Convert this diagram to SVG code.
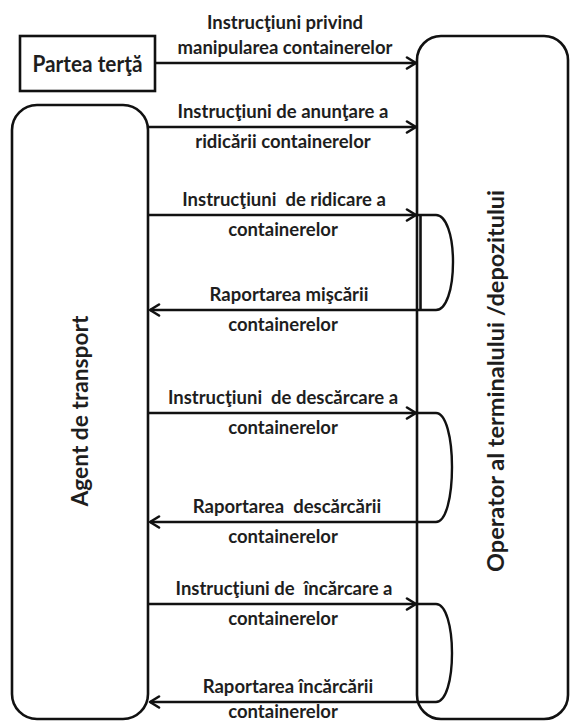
<svg xmlns="http://www.w3.org/2000/svg" width="571" height="722" viewBox="0 0 571 722">
<style>
.box{fill:#fff;stroke:#111;stroke-width:2.6}
.ln{fill:none;stroke:#111;stroke-width:2.6}
.br{fill:none;stroke:#111;stroke-width:2.4}
.t{font-family:"Lato","Liberation Sans",sans-serif;font-weight:bold;font-size:18.5px;fill:#1e1e1e;text-anchor:middle}
.big{font-size:22px}
.vt{font-size:23px}
</style>
<defs>
<marker id="ah" markerUnits="userSpaceOnUse" markerWidth="14" markerHeight="14" viewBox="-1 -1 13 14" refX="10" refY="6" orient="auto">
<path d="M1,0.5 L10,6 L1,11.5" fill="none" stroke="#111" stroke-width="2.6" stroke-linecap="round" stroke-linejoin="round"/>
</marker>
</defs>
<rect width="571" height="722" fill="#fff"/>
<g id="operator">
<rect class="box" x="417" y="36" width="151" height="683" rx="24"/>
<text class="t vt" transform="translate(504,381) rotate(-90)" textLength="382" lengthAdjust="spacingAndGlyphs">Operator al terminalului /depozitului</text>
</g>
<g id="agent">
<rect class="box" x="12" y="105" width="136" height="614" rx="25"/>
<text class="t vt" transform="translate(88,411) rotate(-90)" textLength="191" lengthAdjust="spacingAndGlyphs">Agent de transport</text>
</g>
<g id="parte">
<rect class="box" x="20" y="36" width="135" height="55"/>
<text class="t big" x="87.5" y="72" textLength="110" lengthAdjust="spacingAndGlyphs">Partea terţă</text>
</g>
<g id="connectors">
<line class="ln" x1="155" y1="63" x2="416" y2="63" marker-end="url(#ah)"/>
<line class="ln" x1="148" y1="127" x2="416" y2="127" marker-end="url(#ah)"/>
<line class="ln" x1="148" y1="215" x2="416" y2="215" marker-end="url(#ah)"/>
<line class="ln" x1="418" y1="310" x2="150" y2="310" marker-end="url(#ah)"/>
<line class="ln" x1="148" y1="413" x2="416" y2="413" marker-end="url(#ah)"/>
<line class="ln" x1="418" y1="522" x2="150" y2="522" marker-end="url(#ah)"/>
<line class="ln" x1="148" y1="604" x2="416" y2="604" marker-end="url(#ah)"/>
<line class="ln" x1="418" y1="702" x2="150" y2="702" marker-end="url(#ah)"/>
<path class="br" d="M418,215 H436 C446,215 453,235 453,262 C453,290 446,310 436,310 H418"/>
<line class="ln" x1="420.5" y1="215" x2="420.5" y2="310"/>
<path class="br" d="M418,413 H436 C446,413 452,438 452,467 C452,497 446,522 436,522 H418"/>
<path class="br" d="M418,604 H436 C446,604 452,627 452,653 C452,680 446,702 436,702 H418"/>
</g>
<g id="labels">
<text class="t" x="285" y="29">Instrucţiuni privind</text>
<text class="t" x="285" y="54">manipularea containerelor</text>
<text class="t" x="283" y="118">Instrucţiuni de anunţare a</text>
<text class="t" x="283" y="148">ridicării containerelor</text>
<text class="t" x="284" y="206" xml:space="preserve">Instrucţiuni  de ridicare a</text>
<text class="t" x="283" y="236">containerelor</text>
<text class="t" x="289" y="301">Raportarea mişcării</text>
<text class="t" x="283" y="331">containerelor</text>
<text class="t" x="283" y="404" xml:space="preserve">Instrucţiuni  de descărcare a</text>
<text class="t" x="283" y="434">containerelor</text>
<text class="t" x="287" y="513" xml:space="preserve">Raportarea  descărcării</text>
<text class="t" x="283" y="543">containerelor</text>
<text class="t" x="284" y="595" xml:space="preserve">Instrucţiuni de  încărcare a</text>
<text class="t" x="283" y="625">containerelor</text>
<text class="t" x="288" y="693">Raportarea încărcării</text>
<text class="t" x="283" y="718">containerelor</text>
</g>
</svg>
